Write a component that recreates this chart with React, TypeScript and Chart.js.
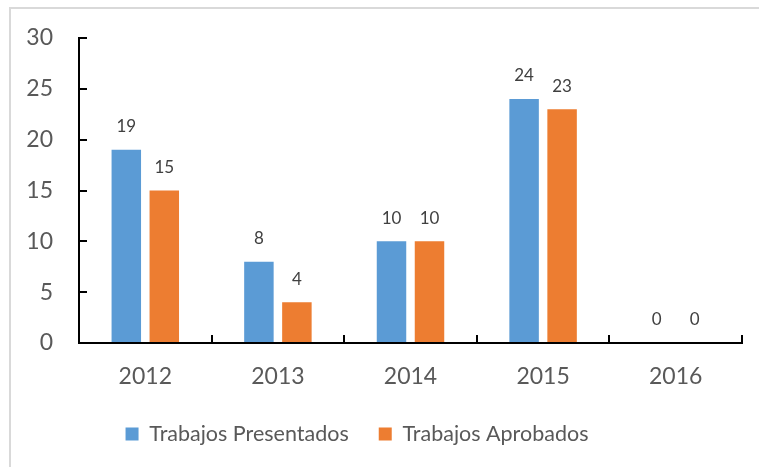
import React, { useEffect, useRef } from "react";
import { Chart, registerables } from "chart.js";

Chart.register(...registerables);

const years = ["2012", "2013", "2014", "2015", "2016"];
const presentados = [19, 8, 10, 24, 0];
const aprobados = [15, 4, 10, 23, 0];
const seriesNames = ["Trabajos Presentados", "Trabajos Aprobados"];
const yMin = 0;
const yMax = 30;
const yStep = 5;

const valueLabels = {
  id: "valueLabels",
  afterDatasetsDraw(chart: any) {
    const ctx = chart.ctx;
    ctx.save();
    ctx.font = "17px Lato";
    ctx.fillStyle = "#404040";
    ctx.textAlign = "center";
    ctx.textBaseline = "middle";
    chart.data.datasets.forEach((ds: any, di: number) => {
      const meta = chart.getDatasetMeta(di);
      meta.data.forEach((el: any, i: number) => {
        ctx.fillText(String(ds.data[i]), el.x, el.y - 23);
      });
    });
    ctx.restore();
  },
};

export default function App() {
  const ref = useRef<HTMLCanvasElement>(null);

  useEffect(() => {
    if (!ref.current) return;
    const chart = new Chart(ref.current, {
      type: "bar",
      data: {
        labels: years,
        datasets: [
          {
            label: seriesNames[0],
            data: presentados,
            backgroundColor: "#5B9BD5",
            barPercentage: 0.776,
            categoryPercentage: 0.573,
          },
          {
            label: seriesNames[1],
            data: aprobados,
            backgroundColor: "#ED7D31",
            barPercentage: 0.776,
            categoryPercentage: 0.573,
          },
        ],
      },
      options: {
        responsive: false,
        animation: false,
        devicePixelRatio: 1,
        layout: { padding: { left: -28, right: 17, top: 38, bottom: 12.25 } },
        scales: {
          x: {
            grid: {
              display: true,
              offset: true,
              drawOnChartArea: false,
              drawTicks: true,
              tickLength: -8,
              color: "#000",
              lineWidth: 2,
            },
            border: { display: true, color: "#000", width: 2 },
            ticks: {
              color: "#595959",
              font: { family: "Lato", size: 23 },
              padding: 28,
            },
            afterFit: (s: any) => {
              s.height = 50.25;
            },
          },
          y: {
            min: yMin,
            max: yMax,
            grid: {
              display: true,
              drawOnChartArea: false,
              drawTicks: true,
              tickLength: -8,
              color: "#000",
              lineWidth: 2,
            },
            border: { display: true, color: "#000", width: 2 },
            ticks: {
              stepSize: yStep,
              color: "#595959",
              font: { family: "Lato", size: 23 },
              padding: 34,
            },
            afterFit: (s: any) => {
              s.width = 107;
              s.paddingTop = 0;
              s.paddingBottom = 0;
            },
          },
        },
        plugins: {
          legend: {
            position: "bottom",
            labels: {
              boxWidth: 13,
              boxHeight: 13,
              padding: 30,
              color: "#595959",
              font: { family: "Lato", size: 21.5 },
            },
          },
          tooltip: { enabled: false },
        },
      },
      plugins: [valueLabels],
    });
    return () => chart.destroy();
  }, []);

  return (
    <div
      style={{
        position: "absolute",
        left: 0,
        top: 0,
        width: 759,
        height: 467,
        background: "#fff",
        overflow: "hidden",
      }}
    >
      <div
        style={{
          position: "absolute",
          left: 9,
          top: 7,
          width: 760,
          height: 470,
          borderTop: "2px solid #d9d9d9",
          borderLeft: "2px solid #d9d9d9",
        }}
      />
      <canvas
        ref={ref}
        width={759}
        height={467}
        style={{ position: "absolute", left: 0, top: 0, width: 759, height: 467 }}
      />
    </div>
  );
}
